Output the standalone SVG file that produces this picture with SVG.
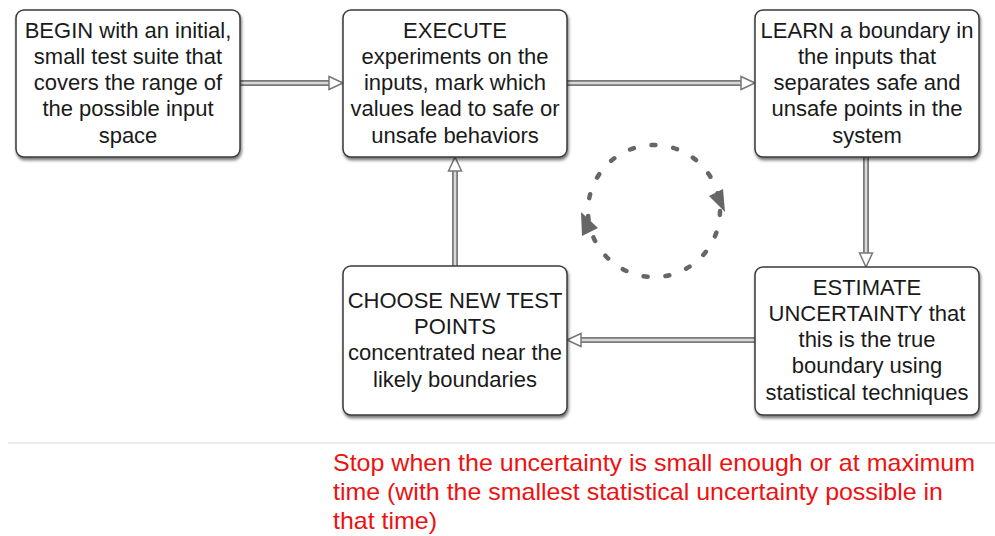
<svg xmlns="http://www.w3.org/2000/svg" width="995" height="536" viewBox="0 0 995 536">
<style>
.box{fill:#fff;stroke:#3a3a3a;stroke-width:1.5;filter:url(#sh)}
.t{font-family:"Liberation Sans",Arial,sans-serif;font-size:22px;fill:#1a1a1a;text-anchor:middle}
.red{font-family:"Liberation Sans",Arial,sans-serif;font-size:24px;fill:#ee1111}
.so{fill:none;stroke:#7a7a7a;stroke-width:6}
.si{fill:none;stroke:#d8d8d8;stroke-width:2.5}
.hd{fill:#fff;stroke:#777;stroke-width:1.5;stroke-linejoin:miter}
</style>
<defs>
<filter id="sh" x="-10%" y="-10%" width="125%" height="130%">
<feDropShadow dx="1" dy="2.5" stdDeviation="1.6" flood-color="#000" flood-opacity="0.55"/>
</filter>
</defs>
<rect width="995" height="536" fill="#fff"/>
<g id="connectors">
<path class="so" d="M240 83H330"/><path class="si" d="M240 83H330"/>
<polygon class="hd" points="343,83 329,76.5 329,89.5"/>
<path class="so" d="M567 83H742"/><path class="si" d="M567 83H742"/>
<polygon class="hd" points="755,83 741,76.5 741,89.5"/>
<path class="so" d="M866 157V254"/><path class="si" d="M866 157V254"/>
<polygon class="hd" points="866,267 859.5,253 872.5,253"/>
<path class="so" d="M755 340H580"/><path class="si" d="M755 340H580"/>
<polygon class="hd" points="567,340 581,333.5 581,346.5"/>
<path class="so" d="M455 266V170"/><path class="si" d="M455 266V170"/>
<polygon class="hd" points="455,157 448.5,171 461.5,171"/>
</g>
<g id="cycle">
<circle cx="654" cy="211" r="66" fill="none" stroke="#666" stroke-width="4.5" stroke-linecap="round" stroke-dasharray="4 18"/>
<polygon points="709,196 723,189 725,212" fill="#666"/>
<polygon points="581,212 582,236 598,228" fill="#666"/>
</g>
<g id="begin">
<rect class="box" x="16" y="10" width="224" height="147" rx="8"/>
<text class="t" x="128" y="38">BEGIN with an initial,</text>
<text class="t" x="128" y="64">small test suite that</text>
<text class="t" x="128" y="90">covers the range of</text>
<text class="t" x="128" y="116">the possible input</text>
<text class="t" x="128" y="143">space</text>
</g>
<g id="execute">
<rect class="box" x="343" y="10" width="224" height="147" rx="8"/>
<text class="t" x="455" y="38">EXECUTE</text>
<text class="t" x="455" y="64">experiments on the</text>
<text class="t" x="455" y="90">inputs, mark which</text>
<text class="t" x="455" y="116">values lead to safe or</text>
<text class="t" x="455" y="143">unsafe behaviors</text>
</g>
<g id="learn">
<rect class="box" x="755" y="10" width="224" height="147" rx="8"/>
<text class="t" x="867" y="38">LEARN a boundary in</text>
<text class="t" x="867" y="64">the inputs that</text>
<text class="t" x="867" y="90">separates safe and</text>
<text class="t" x="867" y="116">unsafe points in the</text>
<text class="t" x="867" y="143">system</text>
</g>
<g id="estimate">
<rect class="box" x="755" y="267" width="224" height="148" rx="8"/>
<text class="t" x="867" y="295">ESTIMATE</text>
<text class="t" x="867" y="321">UNCERTAINTY that</text>
<text class="t" x="867" y="347">this is the true</text>
<text class="t" x="867" y="373">boundary using</text>
<text class="t" x="867" y="400">statistical techniques</text>
</g>
<g id="choose">
<rect class="box" x="343" y="266" width="224" height="149" rx="8"/>
<text class="t" x="455" y="308">CHOOSE NEW TEST</text>
<text class="t" x="455" y="334">POINTS</text>
<text class="t" x="455" y="360">concentrated near the</text>
<text class="t" x="455" y="387">likely boundaries</text>
</g>
<line x1="8" y1="443" x2="995" y2="443" stroke="#dcdcdc" stroke-width="1.2"/>
<g id="note">
<text class="red" x="333" y="471" textLength="642" lengthAdjust="spacingAndGlyphs">Stop when the uncertainty is small enough or at maximum</text>
<text class="red" x="333" y="500" textLength="610" lengthAdjust="spacingAndGlyphs">time (with the smallest statistical uncertainty possible in</text>
<text class="red" x="333" y="529" textLength="104" lengthAdjust="spacingAndGlyphs">that time)</text>
</g>
</svg>
